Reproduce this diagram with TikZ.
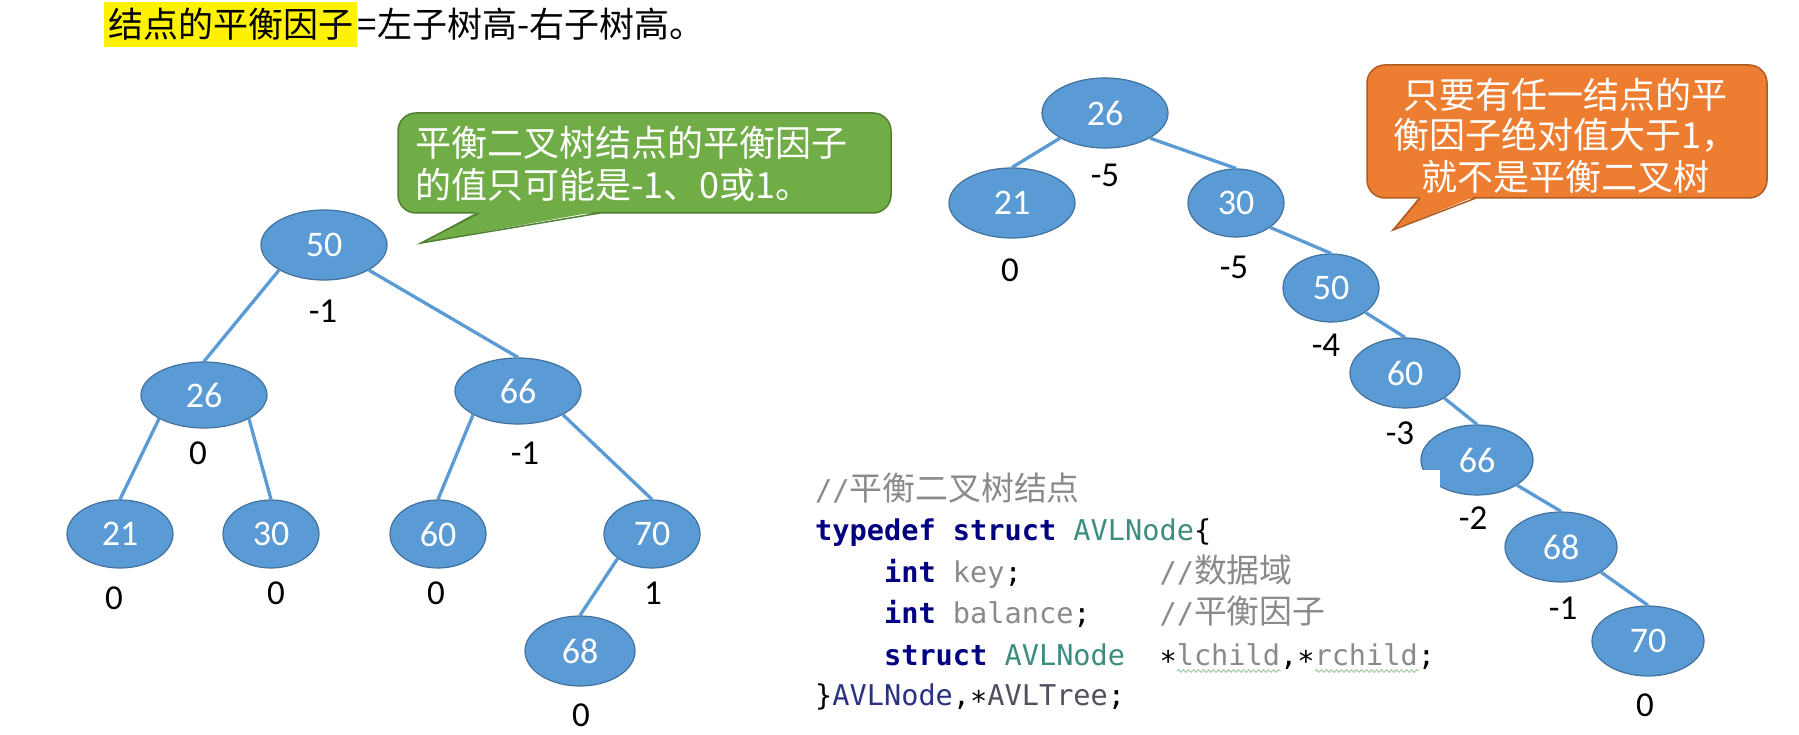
\documentclass[tikz,border=0pt]{standalone}
\usepackage{fontspec}
\setmainfont{Carlito}
\newfontfamily\cjk{Noto Sans CJK SC}
\newfontfamily\mono{DejaVu Sans Mono}
\newfontfamily\monocjk{Noto Sans CJK SC}[Scale=1.15]
\usetikzlibrary{shapes.geometric,calc,decorations.pathmorphing}
\definecolor{nodefill}{HTML}{5B9BD5}
\definecolor{nodeline}{HTML}{41719C}
\definecolor{edgecol}{HTML}{5B9BD5}
\definecolor{calgreen}{HTML}{70AD47}
\definecolor{calgreenline}{HTML}{507E32}
\definecolor{calorange}{HTML}{ED7D31}
\definecolor{calorangeline}{HTML}{AE5A21}
\definecolor{kw}{HTML}{000080}
\definecolor{ty}{HTML}{3C8C80}
\definecolor{idg}{HTML}{8A8A8A}
\definecolor{cmt}{HTML}{8A8A8A}
\definecolor{tdname}{HTML}{2A3380}
\definecolor{tdtree}{HTML}{50505E}
\definecolor{wavy}{HTML}{9CC89C}
\newcommand\codestar{\raisebox{-0.22em}{*}}
\tikzset{
  tnode/.style={ellipse, fill=nodefill, draw=nodeline, line width=1.2pt, text=white,
    inner sep=0pt, font=\fontsize{36}{40}\selectfont},
  big/.style={minimum width=126pt, minimum height=70pt},
  mid/.style={minimum width=110pt, minimum height=70pt},
  small/.style={minimum width=96pt, minimum height=68pt},
  bf/.style={font=\fontsize{35}{38}\selectfont, text=black, inner sep=0pt},
  tedge/.style={draw=edgecol, line width=3.3pt},
  codeline/.style={anchor=base west, inner sep=0pt, text=black, font=\mono\fontsize{28.6}{41}\selectfont},
  caltext/.style={text=white, inner sep=0pt, font=\cjk\fontsize{36}{42}\selectfont},
  calbox/.style={rectangle, rounded corners=18pt, line width=1.5pt, inner sep=0pt},
  wavyline/.style={draw=wavy, line width=0.9pt, decorate,
    decoration={snake, amplitude=1.3pt, segment length=5pt}},
}
\begin{document}
\begin{tikzpicture}[x=1pt,y=-1pt]
\useasboundingbox (0,0) rectangle (1799,735);
\fill[white] (0,0) rectangle (1799,735);

% title
\node[fill=yellow, inner xsep=4pt, inner ysep=0pt, minimum height=45pt, anchor=west,
  font=\cjk\fontsize{35}{40}\selectfont] (T1) at (104,24.5) {结点的平衡因子};
\node[anchor=west, inner sep=0pt, font=\cjk\fontsize{35}{40}\selectfont] (T2) at (T1.east) {=左子树高-右子树高。};

% green callout
\node[calbox, fill=calgreen, draw=calgreenline, minimum width=493pt, minimum height=100pt] (GC) at (644.5,163) {};
\coordinate (GCtip) at (421,243);
\fill[calgreen] (479,211) -- (GCtip) -- (600,211) -- cycle;
\draw[calgreenline, line width=1.5pt] (479,213) -- (GCtip) -- (600,213);
\node[caltext, anchor=west] (GC1) at (415,143) {平衡二叉树结点的平衡因子};
\node[caltext, anchor=west] (GC2) at (415,185) {的值只可能是-1、0或1。};

% orange callout
\node[calbox, fill=calorange, draw=calorangeline, minimum width=400pt, minimum height=133pt] (OC) at (1567,131.5) {};
\coordinate (OCtip) at (1393,230);
\fill[calorange] (1420,196) -- (OCtip) -- (1476,196) -- cycle;
\draw[calorangeline, line width=1.5pt] (1420,198) -- (OCtip) -- (1476,198);
\node[caltext] (OC1) at (1565,95) {只要有任一结点的平};
\node[caltext] (OC2) at (1565,135) {衡因子绝对值大于1，};
\node[caltext] (OC3) at (1565,177) {就不是平衡二叉树};

% left tree
\node[tnode, big] (L50) at (324,245) {50};
\node[tnode, minimum width=126pt, minimum height=66pt] (L26) at (204,395) {26};
\node[tnode, minimum width=126pt, minimum height=66pt] (L66) at (518,391) {66};
\node[tnode, minimum width=106pt, minimum height=68pt] (L21) at (120,534) {21};
\node[tnode, small] (L30) at (271,534) {30};
\node[tnode, small] (L60) at (438,534) {60};
\node[tnode, small] (L70) at (652,534) {70};
\node[tnode, mid] (L68) at (580,651) {68};

\node[bf] (L50b) at (323,311) {-1};
\node[bf] (L26b) at (198,453) {0};
\node[bf] (L66b) at (525,453) {-1};
\node[bf] (L21b) at (114,598) {0};
\node[bf] (L30b) at (276,593) {0};
\node[bf] (L60b) at (436,593) {0};
\node[bf] (L70b) at (653,593) {1};
\node[bf] (L68b) at (581,715) {0};

% right tree
\node[tnode, big] (R26) at (1105,113) {26};
\node[tnode, big] (R21) at (1012,203) {21};
\node[tnode, small] (R30) at (1236,203) {30};
\node[tnode, small] (R50) at (1331,288) {50};
\node[tnode, mid] (R60) at (1405,373) {60};
\node[tnode, minimum width=112pt, minimum height=70pt] (R66) at (1477,460) {66};
\node[tnode, minimum width=112pt, minimum height=70pt] (R68) at (1561,547) {68};
\node[tnode, minimum width=112pt, minimum height=70pt] (R70) at (1648,641) {70};
\fill[white] (1416,470) rectangle (1440,500);

\node[bf] (R26b) at (1105,175) {-5};
\node[bf] (R21b) at (1010,270) {0};
\node[bf] (R30b) at (1234,267) {-5};
\node[bf] (R50b) at (1326,345) {-4};
\node[bf] (R60b) at (1400,433) {-3};
\node[bf] (R66b) at (1473,518) {-2};
\node[bf] (R68b) at (1563,608) {-1};
\node[bf] (R70b) at (1645,705) {0};

% connection points (at 45 degree parametric positions)
\foreach \n in {L50,L26,L66,L70,R26,R30,R50,R60,R66,R68}{
  \coordinate (\n-sw) at ($0.70711*(\n.west) + 0.70711*(\n.south) - 0.41421*(\n.center)$);
  \coordinate (\n-se) at ($0.70711*(\n.east) + 0.70711*(\n.south) - 0.41421*(\n.center)$);
}

% edges
\draw[tedge] (L50-sw) -- (L26.north);
\draw[tedge] (L50-se) -- (L66.north);
\draw[tedge] (L26-sw) -- (L21.north);
\draw[tedge] (L26-se) -- (L30.north);
\draw[tedge] (L66-sw) -- (L60.north);
\draw[tedge] (L66-se) -- (L70.north);
\draw[tedge] (L70-sw) -- (L68.north);

\draw[tedge] (R26-sw) -- (R21.north);
\draw[tedge] (R26-se) -- (R30.north);
\draw[tedge] (R30-se) -- (R50.north);
\draw[tedge] (R50-se) -- (R60.north);
\draw[tedge] (R60-se) -- (R66.north);
\draw[tedge] (R66-se) -- (R68.north);
\draw[tedge] (R68-se) -- (R70.north);

% code
\node[codeline] (C1) at (815,500) {\color{cmt}//{\monocjk 平衡二叉树结点}};
\node[codeline] (C2) at (815,540) {{\bfseries\color{kw}typedef~struct}~{\color{ty}AVLNode}\{};
\node[codeline] (C3) at (815,582) {~~~~{\bfseries\color{kw}int}~{\color{idg}key};~~~~~~~~{\color{cmt}//{\monocjk 数据域}}};
\node[codeline] (C4) at (815,623) {~~~~{\bfseries\color{kw}int}~{\color{idg}balance};~~~~{\color{cmt}//{\monocjk 平衡因子}}};
\node[codeline] (C5) at (815,665) {~~~~{\bfseries\color{kw}struct}~{\color{ty}AVLNode}~~\codestar{\color{idg}lchild},\codestar{\color{idg}rchild};};
\node[codeline] (C6) at (815,705) {\}{\color{tdname}AVLNode},\codestar{\color{tdtree}AVLTree};};
\draw[wavyline] (1177,671) -- (1281,671);
\draw[wavyline] (1315,671) -- (1419,671);
\end{tikzpicture}
\end{document}
